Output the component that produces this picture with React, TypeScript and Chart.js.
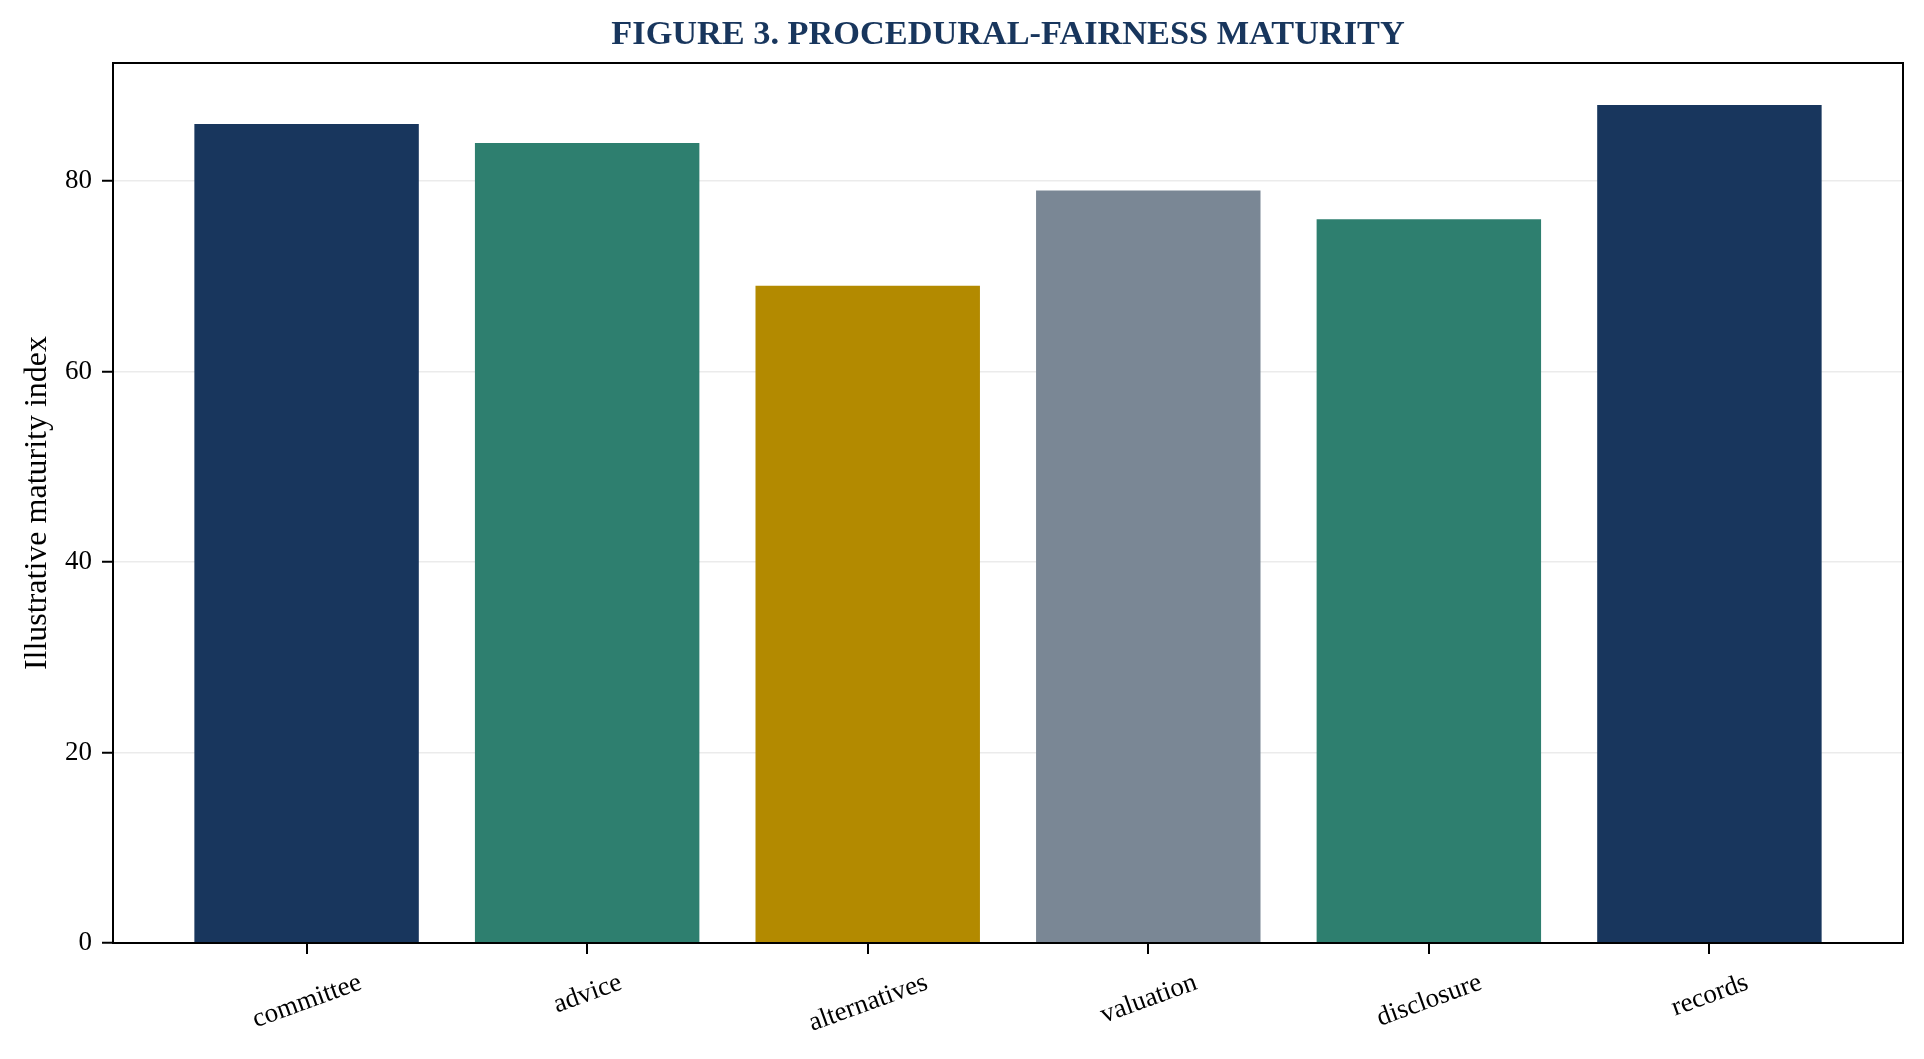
import React, { useEffect, useRef } from "react";
import { Chart, registerables } from "chart.js";

Chart.register(...registerables);

// Figure data
const categories = ["committee", "advice", "alternatives", "valuation", "disclosure", "records"];
const maturityIndex = [86, 84, 69, 79, 76, 88];
const barColors = ["#18365d", "#2e7f6f", "#b38a00", "#7a8795", "#2e7f6f", "#18365d"];
const yTicks = [0, 20, 40, 60, 80];

const TITLE = "FIGURE 3. PROCEDURAL-FAIRNESS MATURITY";
const Y_LABEL = "Illustrative maturity index";
const TITLE_COLOR = "#18365d";
const FONT = "'Liberation Serif', 'Times New Roman', serif";
const TICK_SIZE = 27;
const LABEL_ANGLE = 20;

// draws the box around the plot, the title and the rotated category labels
const framePlugin = {
  id: "frame",
  afterDraw(chart: any) {
    const { ctx, chartArea } = chart;
    const xScale = chart.scales.x;
    ctx.save();
    ctx.strokeStyle = "#000";
    ctx.lineWidth = 2;
    ctx.strokeRect(chartArea.left, chartArea.top, chartArea.width, chartArea.height);

    ctx.fillStyle = TITLE_COLOR;
    ctx.font = `bold 34.3px ${FONT}`;
    ctx.textAlign = "center";
    ctx.textBaseline = "alphabetic";
    ctx.fillText(TITLE, (chartArea.left + chartArea.right) / 2, 44);

    ctx.fillStyle = "#000";
    ctx.font = `${TICK_SIZE}px ${FONT}`;
    const angle = (LABEL_ANGLE * Math.PI) / 180;
    categories.forEach((label, i) => {
      const x = xScale.getPixelForValue(i);
      const w = ctx.measureText(label).width;
      const h = TICK_SIZE * 0.9;
      const boxH = w * Math.sin(angle) + h * Math.cos(angle);
      const y = chartArea.bottom + 26 + boxH / 2;
      ctx.save();
      ctx.translate(x, y);
      ctx.rotate(-angle);
      ctx.fillText(label, 0, TICK_SIZE * 0.32);
      ctx.restore();
    });
    ctx.restore();
  },
};

export default function App() {
  const chartRef = useRef<HTMLCanvasElement>(null);

  useEffect(() => {
    document.body.style.margin = "0";
    document.body.style.overflow = "hidden";
    if (!chartRef.current) return;

    const chart = new Chart(chartRef.current, {
      type: "bar",
      data: {
        datasets: [
          {
            label: Y_LABEL,
            data: maturityIndex.map((v, i) => ({ x: i, y: v })),
            backgroundColor: barColors,
            borderWidth: 0,
            categoryPercentage: 0.8,
            barPercentage: 1.0,
          },
        ],
      },
      options: {
        animation: false,
        responsive: true,
        maintainAspectRatio: false,
        layout: { padding: { top: 63, right: 21, bottom: 0, left: 0 } },
        plugins: {
          legend: { display: false },
          tooltip: { enabled: false },
        },
        scales: {
          x: {
            type: "linear",
            min: -0.69,
            max: 5.69,
            offset: false,
            afterBuildTicks: (scale: any) => {
              scale.ticks = categories.map((_, i) => ({ value: i }));
            },
            afterFit: (scale: any) => {
              scale.height = 116;
            },
            border: { display: false },
            grid: {
              offset: false,
              drawOnChartArea: false,
              drawTicks: true,
              tickLength: 11,
              tickColor: "#000",
              tickWidth: 2,
              lineWidth: 2,
            },
            ticks: { display: false },
          },
          y: {
            min: 0,
            max: 92.4,
            z: 1,
            afterBuildTicks: (scale: any) => {
              scale.ticks = yTicks.map((v) => ({ value: v }));
            },
            afterFit: (scale: any) => {
              scale.width = 113;
            },
            border: { display: false },
            grid: {
              color: "rgba(190, 190, 190, 0.3)",
              lineWidth: 1.5,
              drawTicks: true,
              tickLength: 11,
              tickColor: "#000",
              tickWidth: 2,
            },
            ticks: {
              color: "#000",
              padding: 10,
              font: { family: FONT, size: TICK_SIZE },
            },
            title: {
              display: true,
              text: Y_LABEL,
              color: "#000",
              padding: { top: 18, bottom: 0 },
              font: { family: FONT, size: 32 },
            },
          },
        },
      },
      plugins: [framePlugin],
    });

    return () => {
      chart.destroy();
    };
  }, []);

  return (
    <div style={{ width: "1924px", height: "1059px", position: "relative", background: "#fff" }}>
      <canvas ref={chartRef} />
    </div>
  );
}
